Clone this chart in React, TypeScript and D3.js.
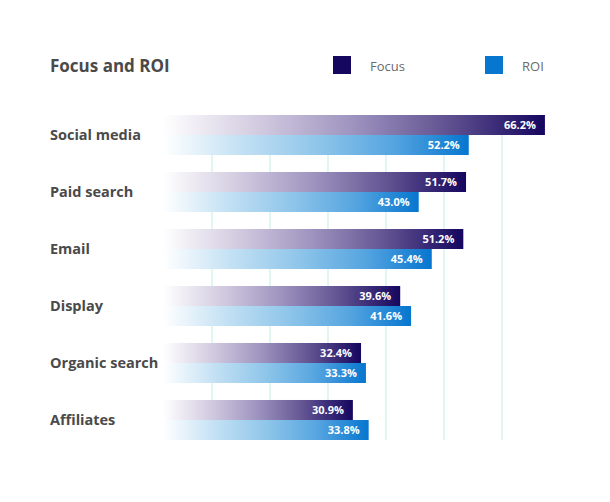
import React from "react";
import * as d3 from "d3";

const categories = ["Social media", "Paid search", "Email", "Display", "Organic search", "Affiliates"];
const focusValues = [66.2, 51.7, 51.2, 39.6, 32.4, 30.9];
const roiValues = [52.2, 43.0, 45.4, 41.6, 33.3, 33.8];
const seriesNames = ["Focus", "ROI"];
const gridTicks = [1, 2, 3, 4, 5, 6];

const W = 610;
const H = 502;
const FONT = "'Open Sans', Lato, sans-serif";

export default function App() {
  const x = d3.scaleLinear().domain([-4, 70]).range([163, 565.6]);
  const grid = d3.scaleLinear().domain([0, 7]).range([154, 560]);
  const y = d3.scaleBand<string>().domain(categories).range([115, 440]).paddingInner(0.298).paddingOuter(0);
  const inner = d3.scaleBand<string>().domain(seriesNames).range([0, y.bandwidth()]).padding(0);
  const [x0] = x.range();
  const [gTop, gBottom] = y.range();

  const series = [
    { name: "Focus", values: focusValues, grad: "url(#gFocus)", color: "#15065f" },
    { name: "ROI", values: roiValues, grad: "url(#gRoi)", color: "#0676cf" },
  ];

  return (
    <svg width={W} height={H} style={{ position: "absolute", left: 0, top: 0, display: "block" }} fontFamily={FONT}>
      <defs>
        <linearGradient id="gFocus" x1="0" x2="1" y1="0" y2="0">
          <stop offset="0" stopColor="#ffffff" />
          <stop offset="0.25" stopColor="#d2cbe0" />
          <stop offset="0.5" stopColor="#9d93bf" />
          <stop offset="0.75" stopColor="#5f5190" />
          <stop offset="1" stopColor="#15065f" />
        </linearGradient>
        <linearGradient id="gRoi" x1="0" x2="1" y1="0" y2="0">
          <stop offset="0" stopColor="#ffffff" />
          <stop offset="0.25" stopColor="#c4e1f4" />
          <stop offset="0.5" stopColor="#90c6ea" />
          <stop offset="0.75" stopColor="#56a5e0" />
          <stop offset="1" stopColor="#0676cf" />
        </linearGradient>
      </defs>
      <rect width={W} height={H} fill="#ffffff" />
      <text x={50} y={72} fontSize={17} fontWeight={700} fill="#4a4a4a">Focus and ROI</text>
      {series.map((s, i) => {
        const lx = i === 0 ? 333 : 485;
        return (
          <g key={s.name}>
            <rect x={lx} y={56} width={18} height={18} fill={s.color} />
            <text x={lx + 37} y={71} fontSize={13} fill="#6a6a6a">{s.name}</text>
          </g>
        );
      })}
      {gridTicks.map((t) => (
        <line key={t} x1={grid(t)} x2={grid(t)} y1={gTop} y2={gBottom} stroke="#cdeee8" strokeWidth={1.2} />
      ))}
      {categories.map((c, ci) => (
        <g key={c} transform={`translate(0,${y(c)})`}>
          <text x={50} y={y.bandwidth() / 2 + 5} fontSize={14.5} fontWeight={700} fill="#4a4a4a">{c}</text>
          {series.map((s) => {
            const v = s.values[ci];
            const by = inner(s.name) as number;
            const xe = x(v);
            return (
              <g key={s.name}>
                <rect x={x0} y={by} width={xe - x0} height={inner.bandwidth()} fill={s.grad} />
                <text x={xe - 9} y={by + inner.bandwidth() / 2 + 4} textAnchor="end" fontSize={11} fontWeight={700} fill="#ffffff">
                  {v.toFixed(1)}%
                </text>
              </g>
            );
          })}
        </g>
      ))}
    </svg>
  );
}
